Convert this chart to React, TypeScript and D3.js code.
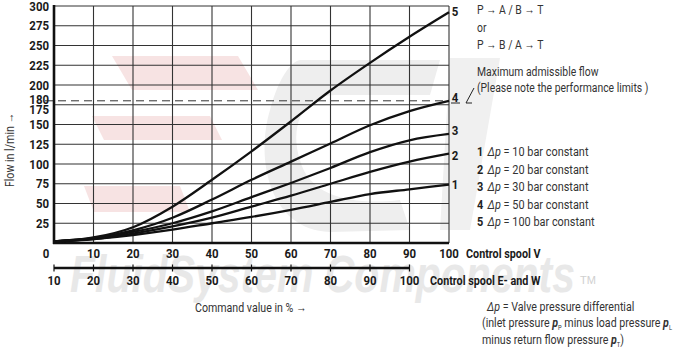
import React from "react";
import * as d3 from "d3";

const commandValues = [0, 10, 20, 30, 40, 50, 60, 70, 80, 90, 100];
const flowDp10 = [2, 5, 10, 17, 25, 33, 42, 52, 62, 68, 74];
const flowDp20 = [2, 5, 12, 21, 32, 46, 60, 75, 90, 103, 113];
const flowDp30 = [2, 6, 14, 25, 40, 58, 76, 95, 115, 130, 138];
const flowDp50 = [2, 6, 16, 32, 55, 80, 103, 126, 149, 167, 180];
const flowDp100 = [2, 7, 20, 46, 80, 116, 154, 193, 228, 261, 292];
const seriesLabels = ["1", "2", "3", "4", "5"];
const seriesDp = ["10", "20", "30", "50", "100"];
const yTicks = [25, 50, 75, 100, 125, 150, 175, 200, 225, 250, 275, 300];
const xTicksV = [0, 10, 20, 30, 40, 50, 60, 70, 80, 90, 100];
const xTicksEW = [10, 20, 30, 40, 50, 60, 70, 80, 90, 100];
const maxFlow = 180;

const W = 674;
const H = 355;
const font = "Roboto, 'Liberation Sans', sans-serif";

type TProps = {
  x: number;
  y: number;
  sx?: number;
  rot?: number;
  anchor?: string;
  size?: number;
  bold?: boolean;
  fill?: string;
  dy?: string;
  children?: React.ReactNode;
};

function T({ x, y, sx = 0.82, rot = 0, anchor = "start", size = 13, bold = false, fill = "#333", dy, children }: TProps) {
  return (
    <text
      transform={`translate(${x},${y}) rotate(${rot}) scale(${sx},1)`}
      textAnchor={anchor}
      fontFamily={font}
      fontSize={size}
      fontWeight={bold ? "bold" : "normal"}
      fill={fill}
      dy={dy}
    >
      {children}
    </text>
  );
}

export default function App() {
  const x = d3.scaleLinear().domain([0, 100]).range([54, 449]);
  const xEW = d3.scaleLinear().domain([10, 100]).range([54, 409.5]);
  const y = d3.scaleLinear().domain([0, 300]).range([243, 6]);
  const line = d3
    .line<number>()
    .x((_, i) => x(commandValues[i]))
    .y((d) => y(d))
    .curve(d3.curveMonotoneX);
  const series = [flowDp10, flowDp20, flowDp30, flowDp50, flowDp100];
  const gridColor = "#333";
  const numColor = "#1a1a1a";
  const labelY = [y(flowDp10[10]), y(flowDp20[10]) + 2, y(flowDp30[10]) - 4, 97, 11];

  return (
    <svg width={W} height={H} style={{ position: "absolute", left: 0, top: 0, background: "#fff" }}>
      {/* watermark */}
      <g>
        <polygon points="112,56 238,56 258,90 132,90" fill="#f7e3e3" />
        <polygon points="92,116 210,116 222,140 104,140" fill="#f7e3e3" />
        <polygon points="84,186 180,186 190,212 94,212" fill="#f7e3e3" />
        <path
          d="M300,60 L440,60 L430,95 L335,95 C300,95 290,130 300,160 C310,200 360,205 400,200 L410,230 L330,232 C270,230 255,160 270,110 C278,80 290,62 300,60 Z"
          fill="#eeeeee"
        />
        <path d="M450,58 L500,58 L470,230 L440,230 Z" fill="#f0f0f0" />
      </g>
      <text
        x={70}
        y={292}
        fontFamily="'Liberation Sans', Arial, sans-serif"
        fontSize={52}
        fontWeight="bold"
        fontStyle="italic"
        fill="#e8e8e8"
        textLength={505}
        lengthAdjust="spacingAndGlyphs"
      >
        FluidSystem Components
      </text>
      <text x={580} y={284} fontFamily="'Liberation Sans', Arial" fontSize={11} fill="#d0d0d0">
        TM
      </text>

      {/* grid */}
      {xTicksV.slice(1).map((t) => (
        <line key={"vx" + t} x1={x(t)} x2={x(t)} y1={y(300)} y2={y(0)} stroke={gridColor} strokeWidth={1.1} />
      ))}
      {yTicks.map((t) => (
        <line key={"hy" + t} x1={x(0)} x2={x(100)} y1={y(t)} y2={y(t)} stroke={gridColor} strokeWidth={1.1} />
      ))}
      <line x1={45} x2={x(100)} y1={y(maxFlow)} y2={y(maxFlow)} stroke="#333" strokeWidth={1} strokeDasharray="8,5" />
      {/* axes */}
      <line x1={x(0)} x2={x(0)} y1={y(300) - 1} y2={y(0) + 1} stroke="#111" strokeWidth={2.6} />
      <line x1={x(0) - 1} x2={x(100)} y1={y(0)} y2={y(0)} stroke="#111" strokeWidth={2.6} />

      {/* curves */}
      {series.map((s, i) => (
        <path key={"s" + i} d={line(s) || ""} fill="none" stroke="#111" strokeWidth={2.3} />
      ))}

      {/* y tick labels */}
      {yTicks.map((t) => (
        <T key={"yl" + t} x={49} y={y(t) + (t === 175 ? 5 : 0)} dy="0.36em" anchor="end" bold sx={0.88} fill={numColor}>
          {t}
        </T>
      ))}
      <T x={49} y={y(maxFlow) - 1} dy="0.36em" anchor="end" bold sx={0.88} fill={numColor}>
        {maxFlow}
      </T>
      <T x={14} y={150} rot={-90} anchor="middle" size={12.5} sx={0.85}>
        Flow in l/min →
      </T>

      {/* x axis V */}
      {xTicksV.map((t) => (
        <T key={"xv" + t} x={t === 0 ? 46 : x(t)} y={258} anchor="middle" bold sx={0.88} fill={numColor}>
          {t}
        </T>
      ))}
      <T x={466} y={258} bold sx={0.83} fill={numColor}>
        Control spool V
      </T>

      {/* x axis E and W */}
      <line x1={xEW(10)} x2={xEW(100)} y1={268} y2={268} stroke="#111" strokeWidth={2.4} />
      {xTicksEW.map((t) => (
        <line key={"te" + t} x1={xEW(t)} x2={xEW(t)} y1={264.5} y2={271.5} stroke="#111" strokeWidth={1.2} />
      ))}
      {xTicksEW.map((t) => (
        <T key={"xe" + t} x={xEW(t)} y={285} anchor="middle" bold sx={0.88} fill={numColor}>
          {t}
        </T>
      ))}
      <T x={430} y={285} bold sx={0.83} fill={numColor}>
        Control spool E- and W
      </T>
      <T x={195} y={312} size={12.5} sx={0.85}>
        Command value in % →
      </T>

      {/* curve end labels */}
      {seriesLabels.map((lab, i) => (
        <T key={"cl" + i} x={455} y={labelY[i]} dy="0.36em" anchor="middle" bold sx={0.88} fill={numColor}>
          {lab}
        </T>
      ))}
      <line x1={451} x2={460} y1={103} y2={103} stroke="#222" strokeWidth={1} />
      <line x1={466} x2={472} y1={103} y2={103} stroke="#222" strokeWidth={1} />
      <line x1={466} x2={474} y1={103} y2={88} stroke="#222" strokeWidth={1} />

      {/* right annotations */}
      <T x={477} y={14} sx={0.8}>P → A / B → T</T>
      <T x={477} y={32} sx={0.8}>or</T>
      <T x={477} y={49} sx={0.8}>P → B / A → T</T>
      <T x={477} y={76} sx={0.8}>Maximum admissible flow</T>
      <T x={477} y={92} sx={0.8}>(Please note the performance limits )</T>

      {/* legend */}
      {seriesLabels.map((lab, i) => (
        <T key={"lg" + i} x={477} y={156 + i * 17.5} sx={0.84}>
          <tspan fontWeight="bold" fill="#222">{lab}</tspan>
          <tspan dx={5} fontStyle="italic">Δp</tspan>
          <tspan> = {seriesDp[i]} bar constant</tspan>
        </T>
      ))}

      {/* footnote */}
      <T x={487} y={311} sx={0.82}>
        <tspan fontStyle="italic">Δp</tspan> = Valve pressure differential
      </T>
      <T x={482} y={327} sx={0.82}>
        (inlet pressure <tspan fontWeight="bold" fontStyle="italic">p</tspan>
        <tspan fontSize={7} dy={3}>P</tspan>
        <tspan dy={-3}> minus load pressure </tspan>
        <tspan fontWeight="bold" fontStyle="italic">p</tspan>
        <tspan fontSize={7} dy={3}>L</tspan>
      </T>
      <T x={482} y={344} sx={0.82}>
        minus return flow pressure <tspan fontWeight="bold" fontStyle="italic">p</tspan>
        <tspan fontSize={7} dy={3}>T</tspan>
        <tspan dy={-3}>)</tspan>
      </T>
    </svg>
  );
}
